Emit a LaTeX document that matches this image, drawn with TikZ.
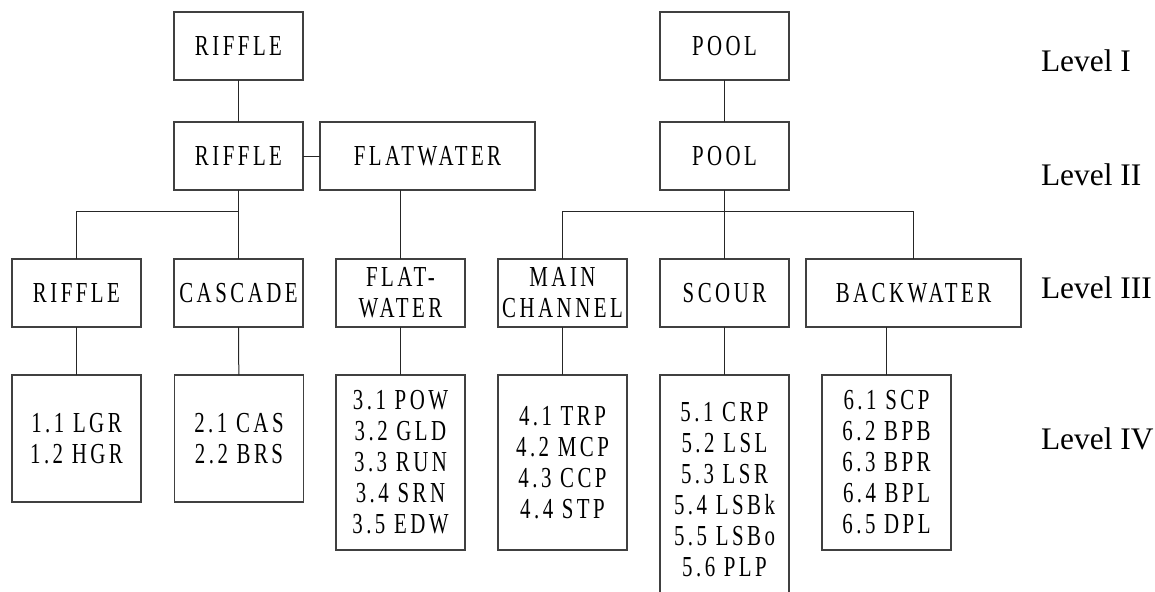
\documentclass[tikz,border=0pt]{standalone}
\usepackage{fontspec}
\setmainfont{Liberation Serif}
\newfontfamily\unitfont[FakeStretch=0.72,LetterSpace=12]{Liberation Serif}
\usepackage{tikz}
\usetikzlibrary{positioning}

\begin{document}
\begin{tikzpicture}[
    x=0.5pt, y=-0.5pt,
    every node/.style={inner sep=0pt, outer sep=0pt},
    unit/.style={rectangle, draw=black!75, line width=0.6pt, minimum width=64.5pt, minimum height=34pt, align=center, font=\unitfont\fontsize{14.5}{15.5}\selectfont},
    typelist/.style={unit, anchor=north, minimum height=#1},
    levelname/.style={anchor=base west, font=\fontsize{15.7}{18}\selectfont},
    link/.style={line width=0.5pt, draw=black!85}
]
\useasboundingbox (0,0) rectangle (1155,591);
\clip (0,0) rectangle (1155,591);

% level I and II
\node[unit] (riffleA) at (238.5,46) {RIFFLE};
\node[unit] (poolA) at (724.5,46) {POOL};
\node[unit] (riffleB) at (238.5,156) {RIFFLE};
\node[unit, minimum width=107.5pt] (flatB) at (427.5,156) {FLATWATER};
\node[unit] (poolB) at (724.5,156) {POOL};

% level III
\node[unit] (riffleC) at (76.5,293) {RIFFLE};
\node[unit] (cascade) at (238.5,293) {CASCADE};
\node[unit] (flatC) at (400.5,293) {FLAT-\\WATER};
\node[unit] (mainch) at (562.5,293) {MAIN\\CHANNEL};
\node[unit] (scour) at (724.5,293) {SCOUR};
\node[unit, minimum width=107.5pt] (backwater) at (913.5,293) {BACKWATER};

% level IV
\node[typelist=63.5pt] (typesA) at (76.5,375) {1.1 LGR\\1.2 HGR};
\node[typelist=63.5pt] (typesB) at (239,375) {2.1 CAS\\2.2 BRS};
\node[typelist=87.5pt] (typesC) at (400.5,375) {3.1 POW\\3.2 GLD\\3.3 RUN\\3.4 SRN\\3.5 EDW};
\node[typelist=87.5pt] (typesD) at (562.5,375) {4.1 TRP\\4.2 MCP\\4.3 CCP\\4.4 STP};
\node[typelist=115pt] (typesE) at (724.5,375) {5.1 CRP\\5.2 LSL\\5.3 LSR\\5.4 LSBk\\5.5 LSBo\\5.6 PLP};
\node[typelist=87.5pt] (typesF) at (886.5,375) {6.1 SCP\\6.2 BPB\\6.3 BPR\\6.4 BPL\\6.5 DPL};

\node[levelname] (levA) at (1041,71) {Level I};
\node[levelname] (levB) at (1041,185) {Level II};
\node[levelname] (levC) at (1041,298) {Level III};
\node[levelname] (levD) at (1041,449) {Level IV};

\coordinate (leftbus) at (238.5,211);
\coordinate (rightbus) at (724.5,211);

\draw[link] (riffleA) -- (riffleB);
\draw[link] (poolA) -- (poolB);
\draw[link] (riffleB) -- (flatB);
\draw[link] (riffleB) -- (cascade);
\draw[link] (leftbus) -| (riffleC.north);
\draw[link] (flatC.north) -- (flatC.north |- flatB.south);
\draw[link] (poolB) -- (scour);
\draw[link] (mainch.north) |- (rightbus) -| (backwater.north);

\draw[link] (riffleC) -- (typesA);
\draw[link] (cascade) -- (typesB);
\draw[link] (flatC) -- (typesC);
\draw[link] (mainch) -- (typesD);
\draw[link] (scour) -- (typesE);
\draw[link] (typesF.north) -- (typesF.north |- backwater.south);

\end{tikzpicture}
\end{document}
